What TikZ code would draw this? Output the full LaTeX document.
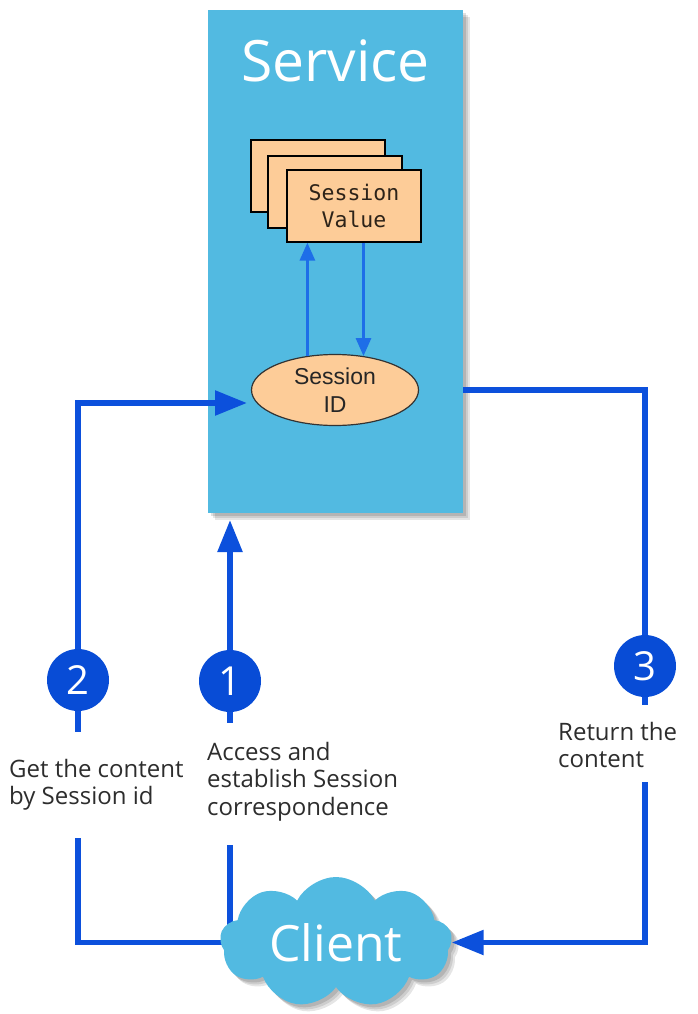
\documentclass[tikz,border=0pt]{standalone}
\usepackage{fontspec}
\setmainfont{Open Sans}
\newfontfamily\arialf{Liberation Sans}
\newfontfamily\monof{DejaVu Sans Mono}
\usetikzlibrary{arrows.meta,shapes.geometric,shapes.symbols,calc}
\pgfdeclarelayer{bg}
\pgfsetlayers{bg,main}
\definecolor{svcblue}{RGB}{82,186,225}
\definecolor{lblue}{RGB}{12,80,220}
\definecolor{cblue}{RGB}{8,76,214}
\definecolor{iblue}{RGB}{30,110,232}
\definecolor{orng}{RGB}{253,204,152}
\definecolor{txtgray}{RGB}{45,45,45}
\definecolor{vtxt}{RGB}{45,35,25}
\begin{document}
\begin{tikzpicture}[x=1pt,y=-1pt,
  mainline/.style={draw=lblue, line width=5.5pt},
  tipped/.style={-{Triangle[length=32pt,width=24pt]}},
  inarrow/.style={draw=iblue, line width=3pt, -{Triangle[length=18pt,width=15pt]}},
  numc/.style={circle, fill=cblue, minimum size=62pt, inner sep=0pt, text=white, font=\fontsize{40}{40}\selectfont},
  lbl/.style={align=left, text=txtgray, inner sep=0pt, anchor=north west, font=\fontsize{24}{27.5}\selectfont},
  valbox/.style={rectangle, draw=black, line width=1.3pt, fill=orng, minimum width=134pt, minimum height=72pt, inner sep=0pt},
  shad/.style={
    preaction={fill=black, opacity=0.10, transform canvas={xshift=7pt,yshift=-7pt}},
    preaction={fill=black, opacity=0.10, transform canvas={xshift=5pt,yshift=-5pt}},
    preaction={fill=black, opacity=0.12, transform canvas={xshift=3pt,yshift=-3pt}}},
]
\useasboundingbox (0,0) rectangle (698,1014);
\begin{pgfonlayer}{bg}
\fill[white] (0,0) rectangle (698,1014);
\end{pgfonlayer}

% Service box
\node[rectangle, fill=svcblue, minimum width=255pt, minimum height=503pt, inner sep=0pt, anchor=north west, shad] (svc) at (208,10) {};
\node[text=white, font=\fontsize{57}{57}\selectfont, anchor=base, inner sep=0pt] (svctitle) at (335.5,82) {Service};

% Session value stack
\node[valbox] (v3) at (318,176) {};
\node[valbox] (v2) at (335,192) {};
\node[valbox, text=vtxt, align=center, font=\monof\fontsize{21.5}{27}\selectfont] (v1) at (354,206) {Session\\Value};

% Session ID
\node[ellipse, draw=black!80, line width=1.2pt, fill=orng, minimum width=167pt, minimum height=71pt, inner sep=0pt, align=center, text=black!85, font=\arialf\fontsize{23}{28}\selectfont] (sid) at (335,390) {Session\\ID};

\draw[inarrow] (sid.129) -- (sid.129 |- v1.south);
\draw[inarrow] (sid.50 |- v1.south) -- (sid.50);

% Number circles
\node[numc] (c2) at (78,680) {2};
\node[numc] (c1) at (230,681) {1};
\node[numc] (c3) at (645,666) {3};

% Labels
\node[lbl] (l2) at (9,759) {Get the content\\by Session id};
\node[lbl] (l1) at (207,742) {Access and\\establish Session\\correspondence};
\node[lbl] (l3) at (558,722) {Return the\\content};

% Client cloud
\node[cloud, cloud puffs=9, cloud puff arc=125, cloud ignores aspect, minimum width=232pt, minimum height=131pt, fill=svcblue, inner sep=0pt, shad,
  label={[text=white, font=\fontsize{50}{50}\selectfont, inner sep=0pt]center:Client}] (client) at (336,942.5) {};

% Coordinates for free ends
\coordinate (inL) at (247,403);
\coordinate (in1) at (230,520);
\coordinate (s2) at (78,732);
\coordinate (r2) at (78,838);
\coordinate (s1) at (230,723);
\coordinate (r1) at (230,845);
\coordinate (s3) at (645,705);
\coordinate (r3) at (645,782);

% Main connectors
\draw[mainline,tipped] (c2.north) |- (inL);
\draw[mainline] (c2.south) -- (s2);
\draw[mainline,tipped] (c1.north) -- (in1);
\draw[mainline] (c1.south) -- (s1);
\draw[mainline] (svc.east |- sid.east) -| (c3.north);
\draw[mainline] (c3.south) -- (s3);
\begin{pgfonlayer}{bg}
\draw[mainline] (r2) |- (client.center);
\draw[mainline] (r1) -- (r1 |- client.center);
\end{pgfonlayer}
\draw[mainline,tipped] (r3) |- (client.east);
\end{tikzpicture}
\end{document}
